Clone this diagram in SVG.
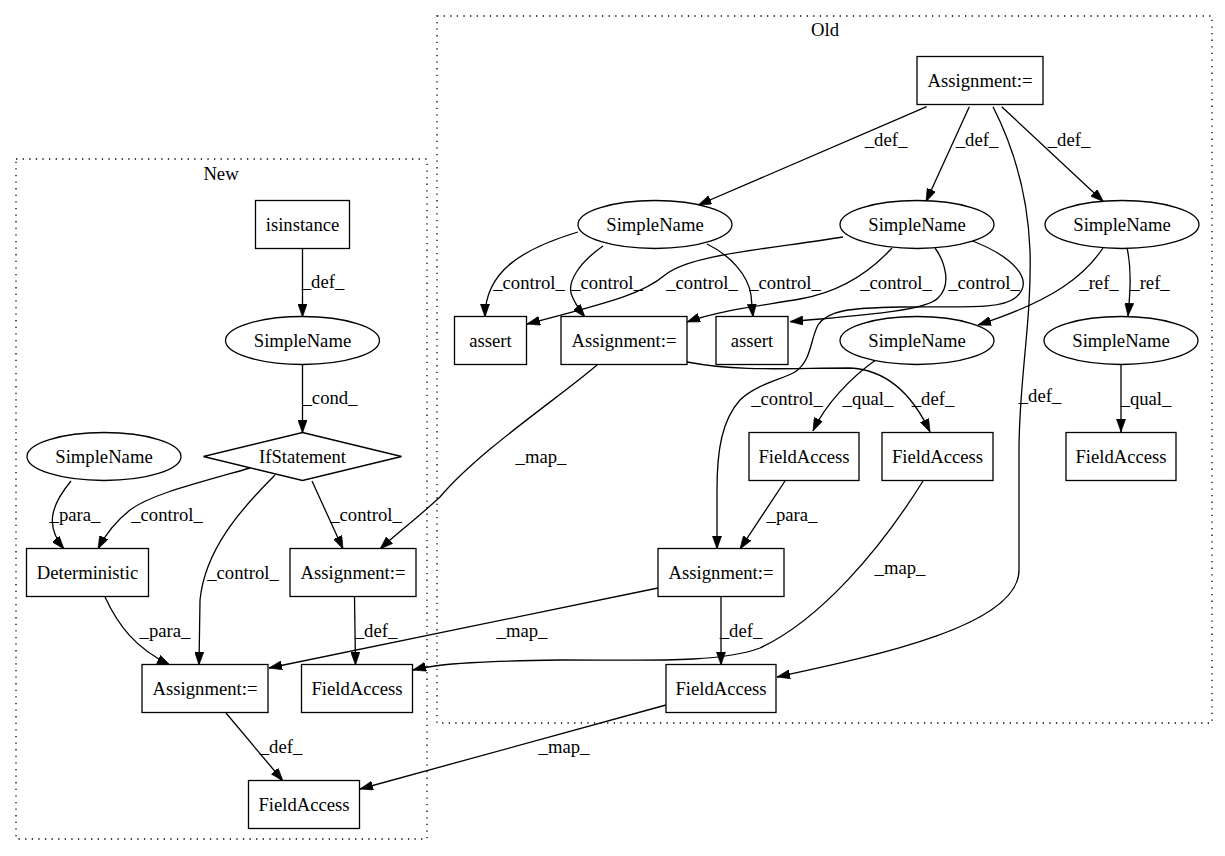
<svg xmlns="http://www.w3.org/2000/svg" width="1225" height="856" viewBox="0 0 1225 856">
<style>
text{font-family:"Liberation Serif","Times New Roman",serif;font-size:18.67px;fill:#000;text-anchor:middle}
.n{fill:#fff;stroke:#000;stroke-width:1.3}
.cl{fill:none;stroke:#000;stroke-width:1.3;stroke-dasharray:1.3,5.3}
.e{fill:none;stroke:#000;stroke-width:1.3;marker-end:url(#ah)}
.m{fill:none;stroke:#000;stroke-width:1.3}
</style>
<defs>
<marker id="ah" markerUnits="userSpaceOnUse" viewBox="0 0 10 7" markerWidth="13" markerHeight="9.3" refX="10" refY="3.5" orient="auto">
<path d="M0,0 L10,3.5 L0,7 z" fill="#000" stroke="#000" stroke-width="0.5"/>
</marker>
</defs>
<rect width="1225" height="856" fill="#fff"/>
<g id="cluster-old">
<rect class="cl" x="437" y="16" width="775" height="707"/>
<text x="825" y="36">Old</text>
</g>
<g id="cluster-new">
<rect class="cl" x="16" y="159" width="411" height="680"/>
<text x="221" y="180">New</text>
</g>
<g id="edges">
<path class="e" d="M926.7,106.7 L698.3,205"/>
<text x="886" y="146">_def_</text>
<path class="e" d="M969.3,106.7 L926,201.7"/>
<text x="977" y="146">_def_</text>
<path class="e" d="M1001.7,106.7 L1103.5,201.7"/>
<text x="1069" y="146">_def_</text>
<path class="e" d="M993,106.7 C1015,150 1028,200 1030,250 C1032,320 1019,380 1019,450 L1019,570 C1019,625 880,655 777,677"/>
<text x="1040" y="402">_def_</text>
<path class="e" d="M578,232 C525,248 485,270 485,317"/>
<text x="529" y="289">_control_</text>
<path class="e" d="M603,246 C580,262 566,282 572,296 C576,305 580,311 585,317"/>
<text x="607" y="289">_control_</text>
<path class="e" d="M707,244 C730,255 748,275 751,295 L753,317"/>
<text x="785" y="289">_control_</text>
<path class="e" d="M843,237 C760,250 690,255 665,275 C645,292 620,300 527,324"/>
<text x="702" y="289">_control_</text>
<path class="e" d="M892,248 C870,272 840,292 800,299 C760,306 720,310 687,322"/>
<text x="896" y="289">_control_</text>
<path class="e" d="M935,248 C945,262 952,285 938,298 C925,312 850,316 790,321.7"/>
<text x="984" y="289">_control_</text>
<path class="e" d="M970,240 C1010,255 1038,280 1015,298 C1000,310 960,306 900,307 C850,308 828,310 818,325 C810,340 812,360 795,372 C780,380 755,385 740,400 C722,420 717,450 717,490 L717,549"/>
<text x="787" y="405">_control_</text>
<path class="e" d="M687,362 C740,372 790,368 850,368 C890,370 915,400 930,432"/>
<text x="933" y="405">_def_</text>
<path class="e" d="M877,359 C850,378 825,405 813,431"/>
<text x="868" y="405">_qual_</text>
<path class="e" d="M1103,248 C1085,275 1055,300 978,325"/>
<text x="1099" y="289">_ref_</text>
<path class="e" d="M1127,248 C1132,270 1130,295 1128,316"/>
<text x="1150" y="289">_ref_</text>
<path class="e" d="M1121,364.5 L1121,432"/>
<text x="1146" y="405">_qual_</text>
<path class="e" d="M785,481 L740,549"/>
<text x="792" y="521">_para_</text>
<path class="e" d="M721,597 L721,665"/>
<text x="741" y="637">_def_</text>
<path class="e" d="M923,481 C880,550 820,620 760,648 C720,663 650,660 560,660 C490,661 440,663 413,670"/>
<text x="900" y="574">_map_</text>
<path class="e" d="M658,588 L269,668"/>
<text x="522" y="637">_map_</text>
<path class="e" d="M666,705 L360,789"/>
<text x="564" y="753">_map_</text>
<path class="e" d="M597,365 C560,397 480,450 440,497 C415,520 395,535 380,549"/>
<text x="541" y="463">_map_</text>
<path class="e" d="M302.5,249 L302.5,317"/>
<text x="323" y="288">_def_</text>
<path class="e" d="M302.5,364.5 L302.5,433"/>
<text x="330" y="404">_cond_</text>
<path class="e" d="M71,481 C52,504 44,525 64,549"/>
<text x="75" y="521">_para_</text>
<path class="e" d="M250,468 C190,485 150,495 130,510 C115,522 105,535 98,549"/>
<text x="167" y="521">_control_</text>
<path class="e" d="M275,475 C240,510 205,550 200,600 L199,665"/>
<text x="243" y="579">_control_</text>
<path class="e" d="M312,481 L343,549"/>
<text x="366" y="521">_control_</text>
<path class="e" d="M105,597 C118,625 135,648 170,665"/>
<text x="165" y="637">_para_</text>
<path class="e" d="M354.5,597 L355.5,665"/>
<text x="376" y="637">_def_</text>
<path class="e" d="M226,713 L283,781"/>
<text x="281" y="753">_def_</text>
</g>
<g id="old-assign-top"><rect class="n" x="917" y="56.5" width="126" height="48"/><text x="980" y="87">Assignment:=</text></g>
<g id="old-sn-a"><ellipse class="n" cx="655" cy="224.5" rx="77" ry="24"/><text x="655" y="231">SimpleName</text></g>
<g id="old-sn-b"><ellipse class="n" cx="917" cy="224.5" rx="77" ry="24"/><text x="917" y="231">SimpleName</text></g>
<g id="old-sn-c"><ellipse class="n" cx="1122" cy="224.5" rx="77" ry="24"/><text x="1122" y="231">SimpleName</text></g>
<g id="old-assert-1"><rect class="n" x="454.5" y="316.5" width="72" height="48"/><text x="490.5" y="347">assert</text></g>
<g id="old-assign-mid"><rect class="n" x="561" y="316.5" width="126" height="48"/><text x="624" y="347">Assignment:=</text></g>
<g id="old-assert-2"><rect class="n" x="716" y="316.5" width="72" height="48"/><text x="752" y="347">assert</text></g>
<g id="old-sn-d"><ellipse class="n" cx="917" cy="340.5" rx="77" ry="24"/><text x="917" y="347">SimpleName</text></g>
<g id="old-sn-e"><ellipse class="n" cx="1121" cy="340.5" rx="77" ry="24"/><text x="1121" y="347">SimpleName</text></g>
<g id="old-fa-1"><rect class="n" x="749" y="432.5" width="110" height="48"/><text x="804" y="463">FieldAccess</text></g>
<g id="old-fa-2"><rect class="n" x="882" y="432.5" width="111" height="48"/><text x="937.5" y="463">FieldAccess</text></g>
<g id="old-fa-3"><rect class="n" x="1066" y="432.5" width="110" height="48"/><text x="1121" y="463">FieldAccess</text></g>
<g id="old-assign-low"><rect class="n" x="658" y="548.5" width="126" height="48"/><text x="721" y="579">Assignment:=</text></g>
<g id="old-fa-4"><rect class="n" x="666" y="664.5" width="110" height="48"/><text x="721" y="695">FieldAccess</text></g>
<g id="new-isinstance"><rect class="n" x="255.5" y="200.5" width="94" height="48"/><text x="302.5" y="231">isinstance</text></g>
<g id="new-sn-1"><ellipse class="n" cx="302.5" cy="340.5" rx="77" ry="24"/><text x="302.5" y="347">SimpleName</text></g>
<g id="new-if"><polygon class="n" points="302.5,432.5 401.5,456.5 302.5,480.5 203.5,456.5"/><text x="302.5" y="463">IfStatement</text></g>
<g id="new-sn-2"><ellipse class="n" cx="104" cy="456.5" rx="77" ry="24"/><text x="104" y="463">SimpleName</text></g>
<g id="new-deterministic"><rect class="n" x="26.5" y="548.5" width="122" height="48"/><text x="87.5" y="579">Deterministic</text></g>
<g id="new-assign-1"><rect class="n" x="290" y="548.5" width="126" height="48"/><text x="353" y="579">Assignment:=</text></g>
<g id="new-assign-2"><rect class="n" x="142" y="664.5" width="126" height="48"/><text x="205" y="695">Assignment:=</text></g>
<g id="new-fa-1"><rect class="n" x="301.5" y="664.5" width="111" height="48"/><text x="357" y="695">FieldAccess</text></g>
<g id="new-fa-2"><rect class="n" x="248.5" y="780.5" width="111" height="48"/><text x="304" y="811">FieldAccess</text></g>
</svg>
